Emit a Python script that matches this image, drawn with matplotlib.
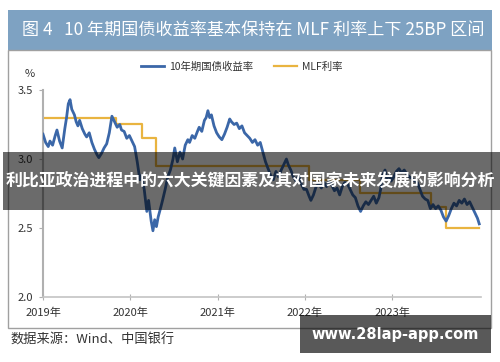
import matplotlib

matplotlib.use("Agg")
import matplotlib.pyplot as plt
from matplotlib.patches import Rectangle

plt.rcParams["font.family"] = ["Noto Sans CJK SC", "DejaVu Sans"]

# 10-year government bond yield (%), x in fractional years
yield_dates = [
    2019.00, 2019.03, 2019.06, 2019.08, 2019.11, 2019.14, 2019.16, 2019.19, 2019.22, 2019.25,
    2019.27, 2019.29, 2019.31, 2019.33, 2019.36, 2019.38, 2019.40, 2019.42, 2019.45, 2019.48,
    2019.50, 2019.53, 2019.56, 2019.59, 2019.62, 2019.64, 2019.67, 2019.70, 2019.73, 2019.76,
    2019.79, 2019.82, 2019.85, 2019.88, 2019.90, 2019.93, 2019.96, 2019.99, 2020.02, 2020.05,
    2020.08, 2020.11, 2020.13, 2020.16, 2020.19, 2020.21, 2020.24, 2020.26, 2020.28, 2020.30,
    2020.32, 2020.35, 2020.37, 2020.40, 2020.43, 2020.46, 2020.49, 2020.51, 2020.54, 2020.57,
    2020.60, 2020.63, 2020.66, 2020.68, 2020.71, 2020.74, 2020.77, 2020.79, 2020.82, 2020.85,
    2020.87, 2020.89, 2020.91, 2020.93, 2020.96, 2020.99, 2021.02, 2021.05, 2021.08, 2021.11,
    2021.14, 2021.16, 2021.19, 2021.22, 2021.25, 2021.28, 2021.31, 2021.34, 2021.37, 2021.40,
    2021.43, 2021.46, 2021.49, 2021.52, 2021.55, 2021.58, 2021.61, 2021.64, 2021.67, 2021.70,
    2021.73, 2021.76, 2021.79, 2021.81, 2021.84, 2021.87, 2021.90, 2021.93, 2021.96, 2021.99,
    2022.02, 2022.05, 2022.07, 2022.10, 2022.13, 2022.16, 2022.19, 2022.22, 2022.25, 2022.28,
    2022.31, 2022.34, 2022.37, 2022.40, 2022.43, 2022.46, 2022.49, 2022.52, 2022.55, 2022.58,
    2022.61, 2022.64, 2022.67, 2022.70, 2022.73, 2022.76, 2022.79, 2022.82, 2022.85, 2022.87,
    2022.89, 2022.92, 2022.94, 2022.97, 2022.99, 2023.02, 2023.05, 2023.08, 2023.11, 2023.14,
    2023.17, 2023.20, 2023.23, 2023.26, 2023.29, 2023.32, 2023.35, 2023.38, 2023.41, 2023.44,
    2023.47, 2023.50, 2023.53, 2023.56, 2023.59, 2023.62, 2023.65, 2023.68, 2023.71, 2023.74,
    2023.77, 2023.80, 2023.83, 2023.86, 2023.89, 2023.92, 2023.95, 2023.98, 2024.00,
]
yield_values = [
    3.18, 3.12, 3.09, 3.13, 3.10, 3.17, 3.21, 3.13, 3.08, 3.22,
    3.30, 3.40, 3.43, 3.36, 3.32, 3.27, 3.24, 3.28, 3.22, 3.18,
    3.16, 3.19, 3.12, 3.07, 3.03, 3.01, 3.04, 3.08, 3.11, 3.19,
    3.31, 3.27, 3.23, 3.25, 3.21, 3.20, 3.15, 3.17, 3.13, 3.09,
    2.98, 2.85, 2.88, 2.78, 2.62, 2.70, 2.55, 2.48, 2.56, 2.51,
    2.58, 2.65, 2.70, 2.78, 2.87, 2.92, 3.00, 3.08, 2.98, 3.05,
    3.00, 3.10, 3.14, 3.12, 3.17, 3.15, 3.20, 3.23, 3.20, 3.28,
    3.30, 3.35, 3.30, 3.32, 3.24, 3.19, 3.16, 3.14, 3.18, 3.23,
    3.29, 3.27, 3.25, 3.26, 3.22, 3.24, 3.19, 3.17, 3.15, 3.12,
    3.14, 3.10, 3.12, 3.05, 2.98, 2.93, 2.88, 2.85, 2.91, 2.87,
    2.92, 2.96, 3.00, 2.96, 2.92, 2.87, 2.84, 2.88, 2.82, 2.78,
    2.78, 2.73, 2.70, 2.74, 2.80, 2.82, 2.79, 2.83, 2.80, 2.84,
    2.81, 2.77, 2.79, 2.74, 2.80, 2.83, 2.82, 2.78, 2.74, 2.72,
    2.66, 2.62, 2.66, 2.69, 2.67, 2.70, 2.73, 2.68, 2.72, 2.78,
    2.88, 2.92, 2.86, 2.88, 2.84, 2.87, 2.91, 2.93, 2.90, 2.92,
    2.89, 2.87, 2.86, 2.84, 2.83, 2.78, 2.73, 2.71, 2.70, 2.64,
    2.67, 2.64, 2.66, 2.63, 2.58, 2.55, 2.59, 2.64, 2.68, 2.66,
    2.70, 2.68, 2.71, 2.67, 2.69, 2.65, 2.61, 2.57, 2.53,
]

# MLF rate (%), step changes
mlf_dates = [2019.00, 2019.84, 2020.13, 2020.29, 2022.05, 2022.63, 2023.45, 2023.62, 2024.00]
mlf_values = [3.30, 3.25, 3.15, 2.95, 2.85, 2.75, 2.65, 2.50, 2.50]

years = [2019, 2020, 2021, 2022, 2023]
year_labels = ["2019年", "2020年", "2021年", "2022年", "2023年"]
y_ticks = [2.0, 2.5, 3.0, 3.5]

title = "图 4   10 年期国债收益率基本保持在 MLF 利率上下 25BP 区间"
source = "数据来源：Wind、中国银行"
banner = "利比亚政治进程中的六大关键因素及其对国家未来发展的影响分析"
watermark = "www.28lap-app.com"

W, H = 500, 362
fig = plt.figure(figsize=(W / 100, H / 100), dpi=100)

ax = fig.add_axes([43 / W, 1 - 297 / H, (481 - 43) / W, (297 - 90) / H])
ax.plot(yield_dates, yield_values, color="#3b67a8", lw=2.0, label="10年期国债收益率", zorder=3)
ax.plot(mlf_dates, mlf_values, color="#e9b440", lw=1.6, drawstyle="steps-post", label="MLF利率", zorder=2)
ax.set_xlim(2019.0, 2024.02)
ax.set_ylim(2.0, 3.5)
ax.set_xticks(years)
ax.set_xticklabels(year_labels)
ax.set_yticks(y_ticks)
ax.set_yticklabels([f"{v:.1f}" for v in y_ticks])
for side in ("top", "right"):
    ax.spines[side].set_visible(False)
ax.spines["left"].set_color("#b0b0b0")
ax.spines["left"].set_linewidth(1.5)
ax.spines["bottom"].set_color("#c4c4c4")
ax.spines["bottom"].set_linewidth(1.2)
ax.tick_params(axis="x", direction="inout", length=4, color="#b0b0b0", labelsize=8, labelcolor="#333333", pad=6)
ax.tick_params(axis="y", direction="out", length=3, color="#b0b0b0", labelsize=8, labelcolor="#333333", pad=4)

fig.legend(loc="center", bbox_to_anchor=(242 / W, 1 - 67 / H), ncol=2, frameon=False,
           fontsize=7.5, handlelength=2.2, columnspacing=2.0, handletextpad=0.5, labelcolor="#333333")

# decorations drawn in pixel coordinates
over = fig.add_axes([0, 0, 1, 1], zorder=10)
over.set_xlim(0, W)
over.set_ylim(H, 0)
over.axis("off")
over.patch.set_alpha(0)

over.add_patch(Rectangle((8, 10), 484, 40, facecolor="#7ea2c2", edgecolor="none"))
over.text(22, 30, title, color="white", fontsize=12.3, ha="left", va="center")
over.add_patch(Rectangle((8, 50), 483, 278, facecolor="none", edgecolor="#a0a0a0", lw=1))
over.text(30, 74, "%", fontsize=8, color="#333333", ha="center", va="center")
over.text(10, 340, source, fontsize=9.5, color="#333333", ha="left", va="center")

over.add_patch(Rectangle((3, 152), 497, 58, facecolor="black", alpha=0.58, edgecolor="none"))
over.text(250, 181, banner, color="white", fontsize=12.2, fontweight="bold", ha="center", va="center")

over.add_patch(Rectangle((300, 315), 191, 38, facecolor="black", alpha=0.65, edgecolor="none"))
over.text(395, 334, watermark, color="white", fontsize=10.5, fontweight="bold", ha="center", va="center",
          family="DejaVu Sans")

fig.savefig("out.png", dpi=100)
